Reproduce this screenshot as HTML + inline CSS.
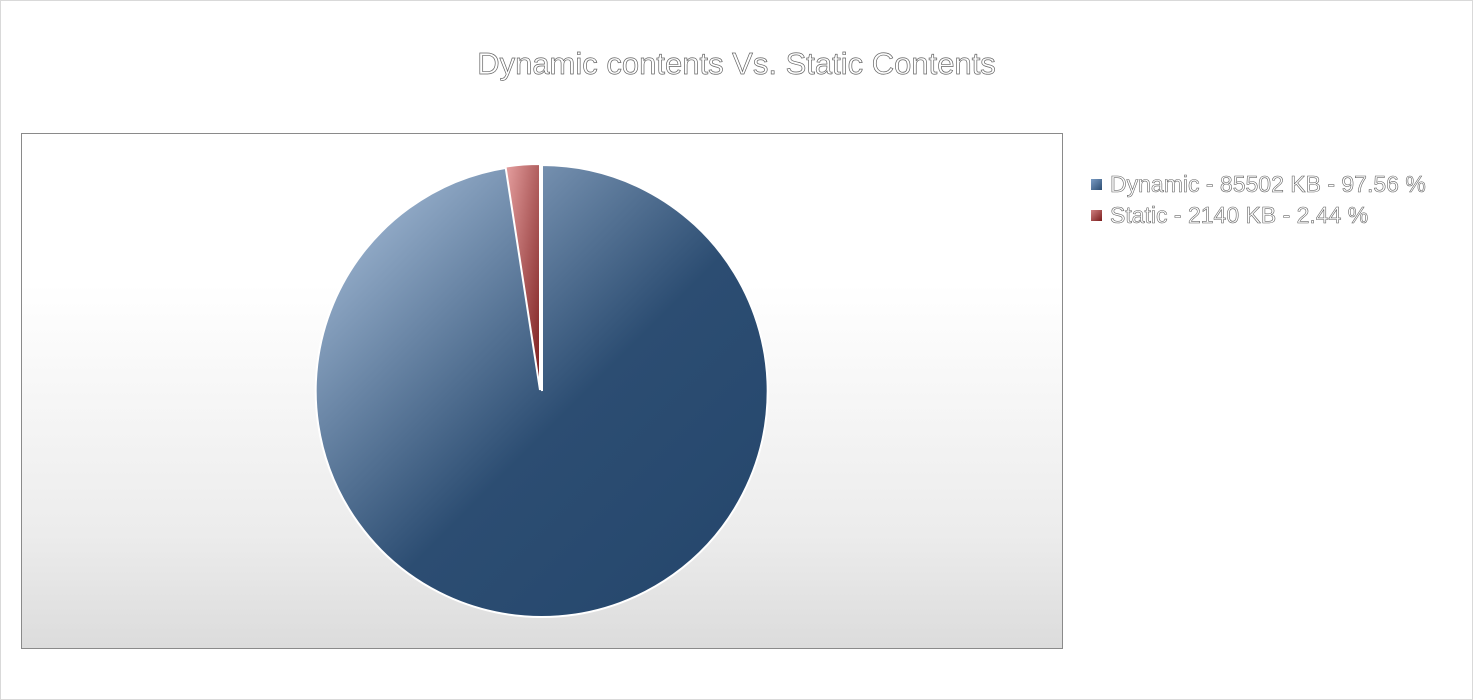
<!DOCTYPE html>
<html><head><style>
body{margin:0;width:1473px;height:700px;background:#fff;position:relative;overflow:hidden;font-family:"Liberation Sans",sans-serif}
.outer{position:absolute;left:0;top:0;width:1471px;height:698px;border:1px solid #d9d9d9}
.title{position:absolute;left:0;width:1473px;top:46px;text-align:center;font-size:31px;color:#fff;-webkit-text-stroke:0.7px #666}
.plot{position:absolute;left:21px;top:133px;width:1040px;height:514px;border:1px solid #8a8a8a;background:linear-gradient(#fff 0,#fff 150px,#ececec 400px,#dcdcdc 514px)}
.leg{position:absolute;left:1110px;font-size:23px;color:#fff;-webkit-text-stroke:0.6px #666}
.sw{position:absolute;left:1091px;width:11px;height:11px}
</style></head><body>
<div class="outer"></div>
<div class="title">Dynamic contents Vs. Static Contents</div>
<div class="plot"></div>
<svg style="position:absolute;left:0;top:0" width="1473" height="700">
<defs>
<linearGradient id="b" x1="0" y1="0" x2="1" y2="1">
<stop offset="0" stop-color="#b2c8e2"/><stop offset="0.55" stop-color="#2c4d72"/><stop offset="1" stop-color="#24466c"/>
</linearGradient>
<linearGradient id="r" x1="0" y1="0" x2="1" y2="1">
<stop offset="0" stop-color="#e6a0a0"/><stop offset="1" stop-color="#7a1c1c"/>
</linearGradient>
</defs>
<path d="M542,391 L542,165 A226,226 0 1,1 507.5,167.6 Z" fill="url(#b)" stroke="#fff" stroke-width="2"/>
<path d="M540,390 L540,164 A226,226 0 0,0 505.5,166.6 Z" fill="url(#r)" stroke="#fff" stroke-width="2"/>
</svg>
<div class="sw" style="top:179px;background:linear-gradient(135deg,#7a9cc4,#2c4d72)"></div>
<div class="leg" style="top:171px">Dynamic - 85502 KB - 97.56 %</div>
<div class="sw" style="top:210px;background:linear-gradient(135deg,#d08080,#7a1c1c)"></div>
<div class="leg" style="top:202px">Static - 2140 KB - 2.44 %</div>
</body></html>
